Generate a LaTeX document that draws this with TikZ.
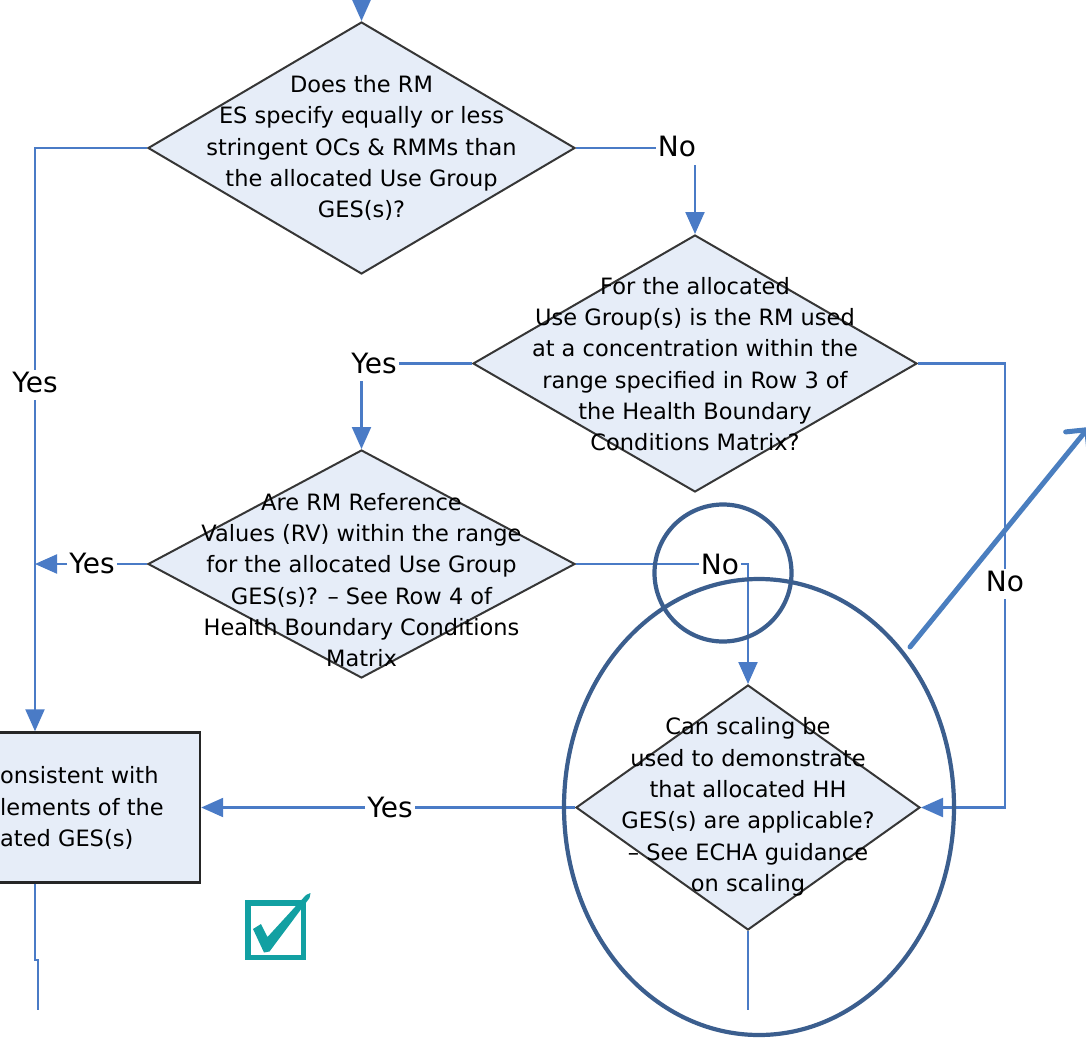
\documentclass[tikz,border=0pt]{standalone}
\usepackage{fontspec}
\setmainfont{DejaVu Sans}
\usetikzlibrary{shapes.geometric,arrows.meta}

\definecolor{linkblue}{HTML}{4A7BC6}
\definecolor{qfill}{HTML}{E6EDF8}
\definecolor{qedge}{HTML}{363636}
\definecolor{ringblue}{HTML}{3B5E8E}
\definecolor{pointerblue}{HTML}{4A7EBF}
\definecolor{tickteal}{HTML}{12A0A2}

\tikzset{
  question/.style={diamond, draw=qedge, line width=2pt, fill=qfill, inner sep=0pt},
  qtext/.style={align=center, inner sep=0pt, font=\fontsize{22.5}{31.3}\selectfont},
  outcome/.style={rectangle, draw=black!85, line width=2.4pt, fill=qfill, inner sep=0pt},
  branch/.style={inner sep=2pt, text height=20pt, text depth=6pt, font=\fontsize{28}{30}\selectfont},
  link/.style={draw=linkblue, line width=2.2pt},
  linkarrow/.style={link, -{Triangle[length=22pt,width=19pt]}},
  ring/.style={draw=ringblue, line width=4.2pt},
}

\begin{document}
\begin{tikzpicture}[x=1pt, y=-1pt]
\useasboundingbox (0,0) rectangle (1086,1038);
\clip (0,0) rectangle (1086,1038);

% decision diamonds
\node[question, minimum width=427pt, minimum height=252pt] (d1) at (361.5,148) {};
\node[question, minimum width=444pt, minimum height=257pt] (d2) at (695,363.5) {};
\node[question, minimum width=427pt, minimum height=228pt] (d3) at (361.5,564) {};
\node[question, minimum width=344pt, minimum height=245pt] (d4) at (748,807.5) {};

% outcome box (runs past the left edge)
\node[outcome, minimum width=360pt, minimum height=150pt] (res) at (20,807.5) {};

% question texts
\node[qtext] (t1) at (d1) {Does the RM\\ES specify equally or less\\stringent OCs \& RMMs than\\the allocated Use Group\\GES(s)?};
\node[qtext] (t2) at (695,364) {For the allocated\\Use Group(s) is the RM used\\at a concentration within the\\range specified in Row 3 of\\the Health Boundary\\Conditions Matrix?};
\node[qtext] (t3) at (361.5,580) {Are RM Reference\\Values (RV) within the range\\for the allocated Use Group\\GES(s)? -- See Row 4 of\\Health Boundary Conditions\\Matrix};
\node[qtext] (t4) at (748,807) {Can scaling be\\used to demonstrate\\that allocated HH\\GES(s) are applicable?\\-- See ECHA guidance\\on scaling};
\node[qtext, align=left, anchor=west] (t5) at (0,808) {onsistent with\\lements of the\\ated GES(s)};

% branch labels
\node[branch] (yes1) at (35,385) {Yes};
\node[branch] (no1) at (677,150) {No};
\node[branch] (yes2) at (374,366) {Yes};
\node[branch] (no3) at (1005,584) {No};
\node[branch] (yes3) at (92,566) {Yes};
\node[branch] (no4) at (720,567) {No};
\node[branch] (yes4) at (390,810) {Yes};

% free ends and bends
\coordinate (top) at (361.5,-4);
\coordinate (join) at (35,564);
\coordinate (bendA) at (35,960);
\coordinate (bendB) at (38,960);
\coordinate (endA) at (38,1010);
\coordinate (endB) at (748,1010);

% connectors
\draw[linkarrow] (top) -- (d1.north);
\draw[link] (d1.west) -| (yes1.north);
\draw[linkarrow] (yes1.south) -- (yes1.south |- res.north);
\draw[link] (d1.east) -- (d1.east -| no1.west);
\draw[linkarrow] (d2.north |- no1.south) -- (d2.north);
\draw[link] (d2.west) -- (d2.west -| yes2.east);
\draw[linkarrow] (d3.north |- yes2.south) -- (d3.north);
\draw[link] (d2.east) -| (no3.north);
\draw[linkarrow] (no3.south) |- (d4.east);
\draw[link] (d3.west) -- (d3.west -| yes3.east);
\draw[linkarrow] (d3.west -| yes3.west) -- (join);
\draw[link] (d3.east) -- (d3.east -| no4.west);
\draw[linkarrow] (d3.east -| no4.east) -| (d4.north);
\draw[link] (d4.west) -- (d4.west -| yes4.east);
\draw[linkarrow] (d4.west -| yes4.west) -- (d4.west -| res.east);
\draw[link] (d4.south) -- (endB);
\draw[link] (yes1.south |- res.south) -- (bendA) -- (bendB) -- (endA);

% highlight rings and pointer
\node[ring, ellipse, minimum width=390pt, minimum height=456pt, inner sep=0pt] (focus) at (759,807) {};
\node[ring, circle, minimum size=137pt, inner sep=0pt] (spot) at (723,573) {};
\coordinate (ptrFrom) at (910,647);
\coordinate (ptrTo) at (1089,427);
\draw[pointerblue, line width=5pt, line cap=round, -{Straight Barb[length=15pt,width=30pt,line cap=round]}] (ptrFrom) -- (ptrTo);

% check box mark
\draw[tickteal, line width=5.5pt] (247.75,902.75) rectangle (303.25,957.25);
\fill[tickteal] (253,929) -- (261,924) -- (267.5,937) -- (306,895) -- (310.5,893) -- (309.5,898) -- (269.5,951.5) -- (264,952.5) -- cycle;
\end{tikzpicture}
\end{document}
